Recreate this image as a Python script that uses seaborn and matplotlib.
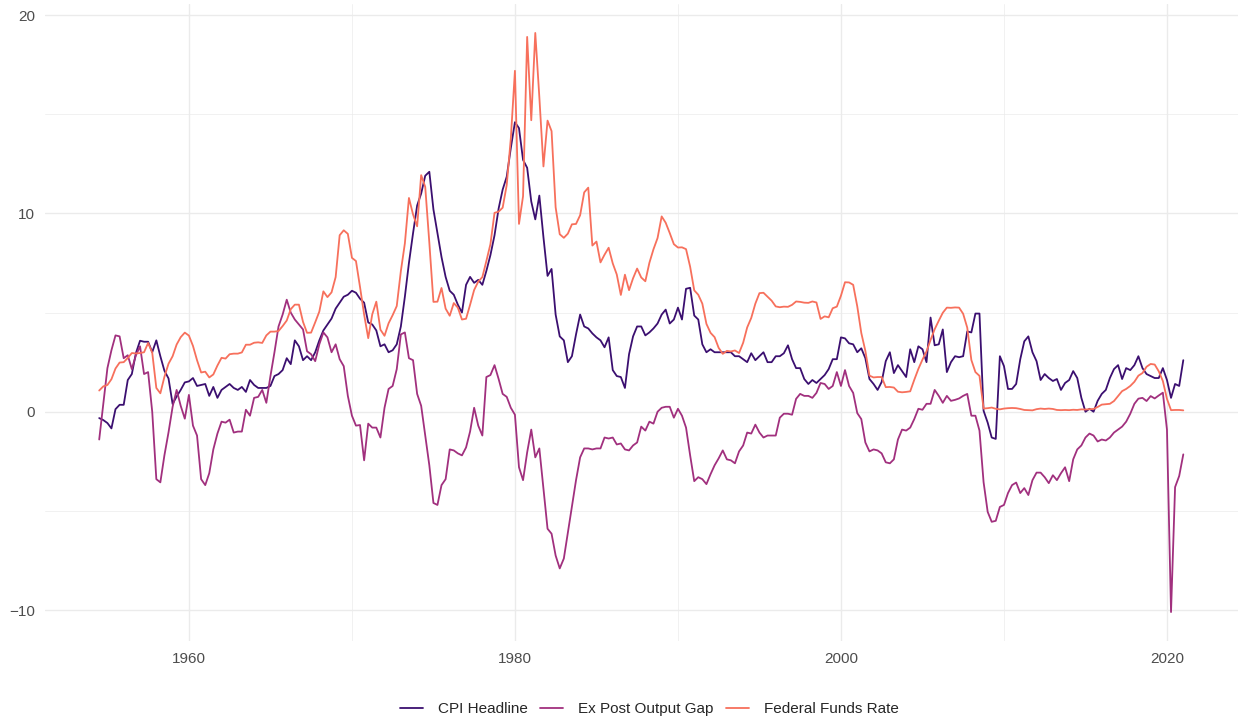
import numpy as np
import pandas as pd
import matplotlib
matplotlib.use("Agg")
import matplotlib.pyplot as plt
import matplotlib.dates as mdates
from matplotlib.ticker import MultipleLocator
import seaborn as sns

# quarterly observations, 1954Q3 - 2021Q1
cpi_headline = [
    -0.32, -0.42,
    -0.57, -0.84, 0.13, 0.35,
    0.35, 1.6, 1.9, 2.96,
    3.58, 3.53, 3.53, 3.0,
    3.6, 2.8, 2.07, 1.68,
    0.39, 0.77, 1.1, 1.48,
    1.53, 1.7, 1.3, 1.35,
    1.4, 0.8, 1.25, 0.7,
    1.1, 1.25, 1.4, 1.2,
    1.1, 1.25, 1.0, 1.6,
    1.35, 1.2, 1.2, 1.2,
    1.3, 1.8, 1.9, 2.1,
    2.7, 2.4, 3.6, 3.3,
    2.6, 2.8, 2.6, 3.0,
    3.6, 4.1, 4.4, 4.7,
    5.2, 5.5, 5.8, 5.9,
    6.1, 6.0, 5.7, 5.5,
    4.5, 4.4, 4.1, 3.3,
    3.4, 3.0, 3.1, 3.4,
    4.3, 5.8, 7.5, 9.0,
    10.4, 11.0, 11.9, 12.1,
    10.2, 9.0, 7.8, 6.8,
    6.1, 5.9, 5.4, 5.0,
    6.4, 6.8, 6.5, 6.65,
    6.4, 7.1, 7.9, 8.9,
    10.25, 11.2, 11.85, 13.3,
    14.6, 14.3, 12.7, 12.3,
    10.6, 9.7, 10.9, 8.8,
    6.85, 7.2, 4.9, 3.8,
    3.6, 2.5, 2.8, 3.9,
    4.9, 4.3, 4.2, 3.95,
    3.75, 3.6, 3.25, 3.75,
    2.1, 1.8, 1.75, 1.2,
    2.9, 3.8, 4.3, 4.3,
    3.85, 4.0, 4.2, 4.45,
    4.9, 5.15, 4.45, 4.65,
    5.25, 4.65, 6.2, 6.25,
    4.85, 4.65, 3.4, 3.0,
    3.15, 3.0, 3.0, 3.0,
    3.0, 3.0, 2.8, 2.8,
    2.65, 2.5, 2.95, 2.6,
    2.8, 3.0, 2.5, 2.5,
    2.8, 2.8, 2.95, 3.35,
    2.65, 2.2, 2.2, 1.65,
    1.4, 1.6, 1.45, 1.65,
    1.85, 2.15, 2.65, 2.65,
    3.75, 3.7, 3.45, 3.4,
    3.0, 3.2, 2.7, 1.65,
    1.4, 1.1, 1.5, 2.55,
    3.0, 1.95, 2.35, 2.05,
    1.75, 3.15, 2.5, 3.3,
    3.15, 2.5, 4.75, 3.35,
    3.4, 4.15, 2.0, 2.5,
    2.8, 2.75, 2.8, 4.05,
    4.0, 4.95, 4.95, 0.05,
    -0.55, -1.3, -1.37, 2.8,
    2.3, 1.15, 1.15, 1.4,
    2.65, 3.55, 3.8, 3.0,
    2.55, 1.6, 1.9, 1.7,
    1.55, 1.65, 1.1, 1.45,
    1.6, 2.05, 1.7, 0.7,
    0.0, 0.15, 0.0, 0.55,
    0.9, 1.1, 1.7, 2.15,
    2.35, 1.65, 2.2, 2.1,
    2.35, 2.8, 2.2, 1.9,
    1.8, 1.7, 1.7, 2.2,
    1.6, 0.7, 1.4, 1.3,
    2.6,
]

output_gap = [
    -1.4, 0.4,
    2.2, 3.1, 3.85, 3.8,
    2.7, 2.85, 2.15, 2.85,
    3.3, 1.9, 2.0, 0.0,
    -3.4, -3.56, -2.2, -1.04,
    0.25, 1.1, 0.3, -0.35,
    0.85, -0.7, -1.2, -3.4,
    -3.7, -3.1, -1.9, -1.1,
    -0.5, -0.55, -0.4, -1.05,
    -1.0, -1.0, 0.1, -0.2,
    0.7, 0.75, 1.1, 0.45,
    1.8, 3.0, 4.3, 4.9,
    5.65, 5.0, 4.65, 4.4,
    4.15, 3.05, 2.9, 2.55,
    3.4, 4.0, 3.75, 3.0,
    3.4, 2.65, 2.3, 0.8,
    -0.2, -0.7, -0.67, -2.45,
    -0.6, -0.8, -0.8, -1.3,
    0.2, 1.15, 1.3, 2.15,
    3.9, 4.0, 2.7, 2.6,
    0.9, 0.3, -1.2, -2.7,
    -4.6, -4.7, -3.7, -3.4,
    -1.9, -1.95, -2.1, -2.2,
    -1.8, -1.0, 0.2, -0.7,
    -1.2, 1.75, 1.85, 2.35,
    1.65, 0.9, 0.75, 0.2,
    -0.15, -2.8, -3.45, -2.05,
    -0.9, -2.3, -1.85, -3.85,
    -5.9, -6.15, -7.25, -7.9,
    -7.4, -6.1, -4.8, -3.45,
    -2.3, -1.85, -1.85, -1.9,
    -1.85, -1.85, -1.3, -1.35,
    -1.3, -1.65, -1.6, -1.9,
    -1.95, -1.7, -1.55, -0.75,
    -0.95, -0.5, -0.6, 0.0,
    0.2, 0.25, 0.25, -0.3,
    0.15, -0.2, -0.8, -2.2,
    -3.5, -3.3, -3.4, -3.65,
    -3.15, -2.7, -2.35, -1.95,
    -2.4, -2.45, -2.6, -2.0,
    -1.7, -1.05, -1.1, -0.65,
    -1.05, -1.3, -1.2, -1.2,
    -1.2, -0.3, -0.1, -0.1,
    -0.15, 0.65, 0.9, 0.8,
    0.8, 0.7, 0.95, 1.45,
    1.4, 1.15, 1.3, 2.0,
    1.3, 2.1, 1.3, 0.95,
    -0.07, -0.37, -1.55, -2.0,
    -1.9, -1.95, -2.1, -2.55,
    -2.6, -2.4, -1.4, -0.9,
    -0.95, -0.8, -0.37, 0.15,
    0.1, 0.4, 0.4, 1.1,
    0.8, 0.45, 0.8, 0.55,
    0.6, 0.67, 0.8, 0.9,
    -0.2, -0.2, -0.95, -3.55,
    -5.05, -5.55, -5.5, -4.8,
    -4.7, -4.1, -3.7, -3.57,
    -4.1, -3.85, -4.2, -3.45,
    -3.07, -3.07, -3.3, -3.6,
    -3.2, -3.45, -3.1, -2.8,
    -3.5, -2.4, -1.9, -1.7,
    -1.3, -1.1, -1.2, -1.5,
    -1.4, -1.45, -1.3, -1.05,
    -0.9, -0.75, -0.5, -0.1,
    0.4, 0.66, 0.7, 0.54,
    0.79, 0.67, 0.82, 0.96,
    -0.9, -10.1, -3.8, -3.24,
    -2.15,
]

fed_funds = [
    1.07, 1.28,
    1.35, 1.64, 2.18, 2.48,
    2.50, 2.71, 2.96, 2.94,
    2.96, 3.00, 3.47, 2.98,
    1.20, 0.93, 1.76, 2.42,
    2.80, 3.39, 3.76, 3.99,
    3.84, 3.32, 2.60, 1.98,
    2.02, 1.73, 1.88, 2.33,
    2.72, 2.68, 2.90, 2.93,
    2.93, 2.99, 3.38, 3.38,
    3.48, 3.50, 3.47, 3.85,
    4.04, 4.04, 4.07, 4.32,
    4.60, 5.17, 5.40, 5.40,
    4.53, 3.98, 3.99, 4.51,
    5.05, 6.07, 5.78, 6.02,
    6.79, 8.90, 9.15, 8.97,
    7.76, 7.60, 6.29, 4.90,
    3.71, 4.91, 5.55, 4.14,
    3.83, 4.46, 4.87, 5.33,
    7.09, 8.49, 10.78, 9.95,
    9.35, 11.93, 11.34, 8.53,
    5.54, 5.55, 6.24, 5.20,
    4.84, 5.48, 5.25, 4.65,
    4.69, 5.39, 6.14, 6.56,
    6.79, 7.60, 8.45, 10.03,
    10.09, 10.29, 11.43, 13.78,
    17.19, 9.47, 10.87, 18.90,
    14.70, 19.10, 15.87, 12.37,
    14.68, 14.15, 10.31, 8.95,
    8.77, 8.98, 9.45, 9.47,
    9.91, 11.06, 11.30, 8.38,
    8.58, 7.53, 7.92, 8.27,
    7.48, 6.92, 5.89, 6.91,
    6.13, 6.73, 7.22, 6.77,
    6.58, 7.51, 8.19, 8.76,
    9.85, 9.53, 9.01, 8.45,
    8.28, 8.29, 8.20, 7.31,
    6.12, 5.90, 5.45, 4.43,
    3.98, 3.76, 3.22, 2.92,
    3.07, 3.04, 3.09, 2.96,
    3.48, 4.25, 4.73, 5.45,
    5.98, 6.00, 5.80, 5.60,
    5.31, 5.27, 5.30, 5.29,
    5.39, 5.56, 5.54, 5.50,
    5.49, 5.56, 5.51, 4.68,
    4.81, 4.76, 5.22, 5.30,
    5.85, 6.53, 6.52, 6.40,
    5.31, 3.97, 3.07, 1.82,
    1.73, 1.75, 1.75, 1.24,
    1.25, 1.22, 1.01, 0.98,
    1.00, 1.03, 1.61, 2.16,
    2.63, 3.04, 3.62, 4.16,
    4.59, 4.99, 5.25, 5.24,
    5.26, 5.25, 4.94, 4.24,
    2.61, 2.00, 1.81, 0.16,
    0.18, 0.21, 0.15, 0.12,
    0.16, 0.18, 0.19, 0.18,
    0.14, 0.09, 0.08, 0.07,
    0.13, 0.16, 0.14, 0.16,
    0.14, 0.09, 0.08, 0.09,
    0.08, 0.10, 0.09, 0.12,
    0.11, 0.13, 0.14, 0.24,
    0.36, 0.38, 0.40, 0.54,
    0.79, 1.04, 1.15, 1.30,
    1.51, 1.82, 1.95, 2.27,
    2.41, 2.38, 2.04, 1.55,
    0.65, 0.08, 0.09, 0.09,
    0.07,
]

series_names = ["CPI Headline", "Ex Post Output Gap", "Federal Funds Rate"]
dates = pd.date_range("1954-07-01", periods=len(cpi_headline), freq="QS")

df = pd.DataFrame({
    "date": dates,
    series_names[0]: cpi_headline,
    series_names[1]: output_gap,
    series_names[2]: fed_funds,
})
long = df.melt(id_vars="date", var_name="series", value_name="value")

cmap = plt.get_cmap("magma")
palette = dict(zip(series_names, [cmap(0.2), cmap(0.45), cmap(0.7)]))

sns.set_style("white")
plt.rcParams["font.family"] = ["Liberation Sans", "DejaVu Sans"]

fig, ax = plt.subplots(figsize=(12.38, 7.19), dpi=100)
fig.subplots_adjust(left=45 / 1238, right=1237.5 / 1238, top=1 - 4 / 719, bottom=1 - 641 / 719)

sns.lineplot(data=long, x="date", y="value", hue="series", hue_order=series_names,
             palette=palette, linewidth=1.3, ax=ax)

ax.margins(x=0.05, y=0.05)
ax.xaxis.set_major_locator(mdates.YearLocator(20))
ax.xaxis.set_minor_locator(mdates.YearLocator(10))
ax.xaxis.set_major_formatter(mdates.DateFormatter("%Y"))
ax.yaxis.set_major_locator(MultipleLocator(10))
ax.yaxis.set_minor_locator(MultipleLocator(5))

ax.grid(which="major", color="#EBEBEB", linewidth=1.0)
ax.grid(which="minor", color="#EBEBEB", linewidth=0.5)
ax.set_axisbelow(True)
for sp in ax.spines.values():
    sp.set_visible(False)
ax.tick_params(which="both", length=0, labelsize=11, labelcolor="#4D4D4D")
ax.tick_params(axis="x", pad=8)
ax.tick_params(axis="y", pad=7)
ax.set_xlabel("")
ax.set_ylabel("")

handles, labels = ax.get_legend_handles_labels()
ax.legend(handles, labels, loc="center", bbox_to_anchor=(0.5246, 1 - 709 / 719),
          bbox_transform=fig.transFigure, ncol=3, frameon=False,
          fontsize=11, handlelength=1.5, columnspacing=0.8, handletextpad=1.0)

fig.savefig("out.png", dpi=100)
